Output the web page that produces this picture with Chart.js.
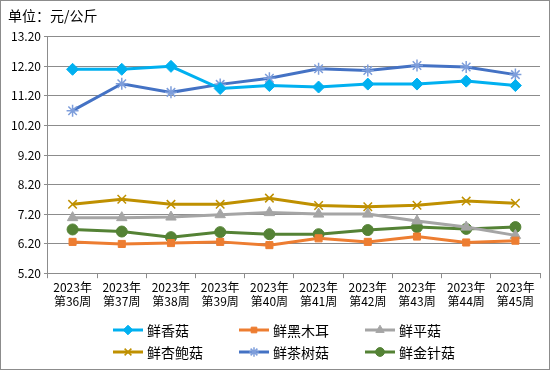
<!DOCTYPE html>
<html>
<head>
    <meta charset="UTF-8">
    <title>鲜菇价格周走势</title>
    <style>
        body { margin: 0; padding: 0; background: #fff; }
        .frame { width: 550px; height: 370px; box-sizing: border-box; border: 1px solid #8c8c8c; }
        canvas { display: block; }
    </style>
    <script src="https://cdn.jsdelivr.net/npm/chart.js@4.4.1/dist/chart.umd.min.js"></script>
</head>
<body>
    <div class="frame">
        <canvas id="chart" width="548" height="368"></canvas>
    </div>

    <script>
        // categories (two-line labels)
        const weeks = ['第36周', '第37周', '第38周', '第39周', '第40周',
                       '第41周', '第42周', '第43周', '第44周', '第45周'];
        const yearLabel = '2023年';
        const yTicks = [5.2, 6.2, 7.2, 8.2, 9.2, 10.2, 11.2, 12.2, 13.2];

        // prices, 元/公斤
        const xianggu   = [12.10, 12.10, 12.20, 11.45, 11.55, 11.50, 11.60, 11.60, 11.70, 11.55];
        const heimuer   = [6.26, 6.19, 6.22, 6.26, 6.15, 6.38, 6.26, 6.44, 6.24, 6.30];
        const pinggu    = [7.08, 7.08, 7.10, 7.18, 7.25, 7.20, 7.20, 6.97, 6.76, 6.48];
        const xingbaogu = [7.53, 7.70, 7.53, 7.53, 7.74, 7.49, 7.45, 7.50, 7.64, 7.57];
        const chashugu  = [10.70, 11.61, 11.32, 11.59, 11.80, 12.12, 12.06, 12.23, 12.18, 11.92];
        const jinzhengu = [6.68, 6.61, 6.42, 6.59, 6.52, 6.52, 6.66, 6.76, 6.70, 6.76];

        const font = "'Noto Sans CJK SC', 'Noto Sans', sans-serif";

        function series(label, data, color, style, radius, extra) {
            return Object.assign({
                label: label,
                data: data,
                borderColor: color,
                backgroundColor: color,
                borderWidth: 3,
                pointStyle: style,
                pointRadius: radius,
                pointHoverRadius: radius,
                pointBackgroundColor: color,
                pointBorderColor: color,
                pointBorderWidth: 1,
                tension: 0
            }, extra || {});
        }

        const datasets = [
            series('鲜香菇', xianggu, '#00B0F0', 'rectRot', 6),
            series('鲜黑木耳', heimuer, '#ED7D31', 'rect', 5),
            series('鲜平菇', pinggu, '#A5A5A5', 'triangle', 6),
            series('鲜杏鲍菇', xingbaogu, '#BF9000', 'crossRot', 6, { pointBorderWidth: 1.5 }),
            series('鲜茶树菇', chashugu, '#4472C4', 'star', 6, { pointBorderColor: '#7E9EDB', pointBorderWidth: 1.5 }),
            series('鲜金针菇', jinzhengu, '#548235', 'circle', 5.5)
        ];

        // legend in a 3 x 2 grid under the axis
        const gridLegend = {
            id: 'gridLegend',
            afterDraw(chart) {
                const ctx = chart.ctx;
                const x0 = 112, colW = 126, rowY = [329, 351];
                ctx.save();
                chart.data.datasets.forEach((ds, i) => {
                    const x = x0 + (i % 3) * colW;
                    const y = rowY[Math.floor(i / 3)];
                    ctx.strokeStyle = ds.borderColor;
                    ctx.lineWidth = 3;
                    ctx.beginPath();
                    ctx.moveTo(x, y);
                    ctx.lineTo(x + 30, y);
                    ctx.stroke();
                    // drawPoint uses the current fill/stroke
                    ctx.fillStyle = ds.pointBackgroundColor;
                    ctx.strokeStyle = ds.pointBorderColor;
                    ctx.lineWidth = ds.pointBorderWidth;
                    Chart.helpers.drawPoint(ctx, {
                        pointStyle: ds.pointStyle,
                        radius: ds.pointRadius * 0.8,
                        rotation: 0,
                        borderWidth: ds.pointBorderWidth
                    }, x + 15, y);
                    ctx.fillStyle = '#000';
                    ctx.font = '14px ' + font;
                    ctx.textBaseline = 'middle';
                    ctx.textAlign = 'left';
                    ctx.fillText(ds.label, x + 34, y + 1);
                });
                ctx.restore();
            }
        };

        new Chart(document.getElementById('chart'), {
            type: 'line',
            data: {
                labels: weeks.map(w => [yearLabel, w]),
                datasets: datasets
            },
            plugins: [gridLegend],
            options: {
                responsive: false,
                animation: false,
                events: [],
                layout: { padding: { left: 7, right: 9, top: 0, bottom: 58 } },
                plugins: {
                    legend: { display: false },
                    tooltip: { enabled: false },
                    title: {
                        display: true,
                        text: '单位：元/公斤',
                        align: 'start',
                        color: '#000',
                        font: { family: font, size: 14, weight: 'normal' },
                        padding: { top: 6, bottom: 13 }
                    }
                },
                scales: {
                    x: {
                        offset: true,
                        grid: {
                            display: true,
                            drawOnChartArea: false,
                            drawTicks: true,
                            tickLength: 5,
                            color: '#8c8c8c',
                            offset: true
                        },
                        border: { color: '#8c8c8c', width: 1 },
                        ticks: {
                            color: '#000',
                            font: { family: font, size: 12 },
                            maxRotation: 0,
                            autoSkip: false,
                            padding: 2
                        }
                    },
                    y: {
                        min: 5.2,
                        max: 13.2,
                        afterBuildTicks: axis => {
                            axis.ticks = yTicks.map(v => ({ value: v }));
                        },
                        grid: {
                            color: '#8c8c8c',
                            lineWidth: 1,
                            tickLength: 4
                        },
                        border: { color: '#8c8c8c', width: 1 },
                        ticks: {
                            color: '#000',
                            font: { family: font, size: 12 },
                            padding: 3,
                            callback: v => Number(v).toFixed(2)
                        }
                    }
                }
            }
        });
    </script>
</body>
</html>
